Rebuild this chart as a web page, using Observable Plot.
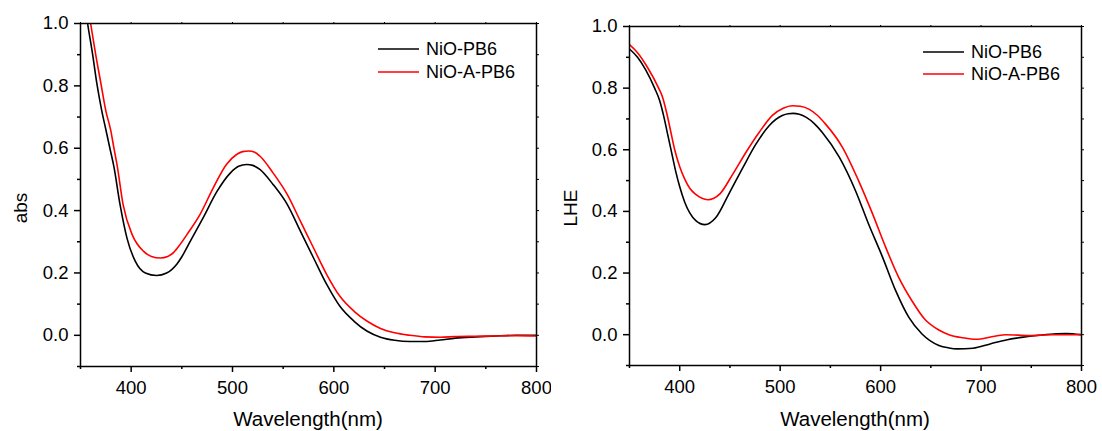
<!DOCTYPE html>
<html><head><meta charset="utf-8">
<script src="https://cdn.jsdelivr.net/npm/d3@7"></script>
<script src="https://cdn.jsdelivr.net/npm/@observablehq/plot@0.6"></script>
<style>
body{margin:0;background:#fff;}
#wrap{position:relative;width:1102px;height:431px;}
#wrap svg{position:absolute;top:0;}
</style></head><body><div id="wrap"></div>
<script>
// ---- data ----
const seriesNames = ["NiO-PB6", "NiO-A-PB6"];
const seriesColors = ["#000000", "#ff0000"];

// Left panel: abs
const absBlackX = [350,357,362,366,371,375,379,383,389,396,404,414,425,435,440,445,450,458,471,485,498,506,514,520,527,540,554,567,580,593,606,620,633,646,660,675,690,705,720,740,760,780,800];
const absBlackY = [1.16,1.00,0.90,0.81,0.72,0.66,0.60,0.54,0.42,0.31,0.238,0.200,0.192,0.200,0.211,0.228,0.252,0.300,0.377,0.463,0.521,0.542,0.548,0.545,0.532,0.484,0.420,0.334,0.248,0.163,0.093,0.045,0.013,-0.006,-0.016,-0.020,-0.020,-0.015,-0.009,-0.005,-0.002,0.000,0.000];
const absRedX = [350,360,365,370,375,380,383,386,392,401,412,420,429,436,442,448,455,468,481,494,504,510,516,522,527,540,554,567,580,593,606,620,633,646,660,675,690,705,720,740,760,780,800];
const absRedY = [1.22,1.00,0.90,0.81,0.72,0.655,0.60,0.548,0.42,0.323,0.270,0.253,0.248,0.253,0.266,0.290,0.323,0.388,0.473,0.548,0.580,0.589,0.591,0.587,0.575,0.521,0.452,0.366,0.280,0.195,0.125,0.077,0.045,0.022,0.008,0.000,-0.005,-0.006,-0.004,-0.003,-0.002,-0.001,-0.002];

// Right panel: LHE
const lheBlackX = [350,358,366,375,380,384,388,392,396,400,405,410,416,425,436,449,463,476,489,502,508,513,519,526,534,542,559,575,588,602,615,628,641,658,668,676,692,709,725,742,758,775,785,800];
const lheBlackY = [0.927,0.90,0.86,0.80,0.76,0.71,0.65,0.59,0.53,0.48,0.43,0.395,0.37,0.357,0.38,0.457,0.543,0.619,0.678,0.711,0.717,0.718,0.715,0.705,0.685,0.656,0.575,0.467,0.359,0.251,0.143,0.057,0.003,-0.035,-0.043,-0.046,-0.044,-0.030,-0.017,-0.008,-0.002,0.003,0.004,0.000];
const lheRedX = [350,358,368,379,383,387,391,395,400,405,410,416,428,440,453,466,479,492,503,512,520,529,537,545,562,578,592,605,618,631,644,658,668,682,695,712,725,748,771,800];
const lheRedY = [0.941,0.915,0.867,0.80,0.77,0.72,0.66,0.60,0.545,0.505,0.475,0.455,0.438,0.457,0.522,0.592,0.656,0.711,0.735,0.743,0.741,0.731,0.712,0.684,0.608,0.500,0.392,0.284,0.186,0.111,0.050,0.015,0.000,-0.010,-0.015,-0.006,0.000,-0.003,0.000,0.000];

const xTicks = [400, 500, 600, 700, 800];
const xMinor = [350, 450, 550, 650, 750];
const yTicks = [0.0, 0.2, 0.4, 0.6, 0.8, 1.0];
const yMinor = [-0.1, 0.1, 0.3, 0.5, 0.7, 0.9];
const xLabel = "Wavelength(nm)";

function toRows(xs, ys, name) { return xs.map((x, i) => ({x, y: ys[i], series: name})); }

const FONT = "Arial, 'Liberation Sans', sans-serif";

function panel(o) {
  const rows = [...toRows(o.bx, o.by, seriesNames[0]), ...toRows(o.rx, o.ry, seriesNames[1])];
  const svg = Plot.plot({
    width: o.w, height: 431,
    marginLeft: o.ml, marginRight: o.mr, marginTop: o.mt, marginBottom: o.mb,
    style: {fontFamily: FONT, fontSize: "18.5px", color: "#000", background: "transparent"},
    x: {domain: [350, 800]},
    y: {domain: [-0.1, 1.0]},
    color: {domain: seriesNames, range: seriesColors},
    marks: [
      Plot.axisY({ticks: yTicks, tickSize: 6, tickPadding: 6, strokeWidth: 1.5, tickFormat: d => d.toFixed(1), fontSize: 18.5, label: null}),
      Plot.axisY({ticks: yMinor, tickSize: 3, strokeWidth: 1.5, text: null, label: null}),
      Plot.axisY({ticks: [...yTicks, ...yMinor], anchor: "right", tickSize: 2, strokeWidth: 1, text: null, label: null}),
      Plot.axisX({ticks: xTicks, tickSize: 6, tickPadding: 8, strokeWidth: 1.5, fontSize: 18.5, label: null}),
      Plot.axisX({ticks: xMinor, tickSize: 3, strokeWidth: 1.5, text: null, label: null}),
      Plot.axisX({ticks: [...xTicks, ...xMinor], anchor: "top", tickSize: 2, strokeWidth: 1, text: null, label: null}),
      Plot.line(rows, {x: "x", y: "y", z: "series", stroke: "series", strokeWidth: 1.6, curve: "monotone-x", clip: true}),
      Plot.frame({stroke: "#000", strokeWidth: 1.5})
    ]
  });
  svg.style.left = o.left + "px";
  const s = d3.select(svg);
  // axis titles
  s.append("text").attr("transform", `translate(${o.ylx},208) rotate(-90)`)
    .attr("text-anchor", "middle").attr("dominant-baseline", "central")
    .attr("font-family", FONT).attr("font-size", 19).attr("fill", "#000").text(o.ylabel);
  s.append("text").attr("x", o.xlx).attr("y", 426)
    .attr("text-anchor", "middle").attr("font-family", FONT).attr("font-size", 20.5).attr("fill", "#000").text(xLabel);
  // legend
  seriesNames.forEach((name, i) => {
    const y = o.legY + i * o.legGap;
    s.append("line").attr("x1", o.legX).attr("x2", o.legX + 41).attr("y1", y).attr("y2", y)
      .attr("stroke", seriesColors[i]).attr("stroke-width", 1.5);
    s.append("text").attr("x", o.legX + 48).attr("y", y).attr("dy", "0.36em")
      .attr("text-anchor", "start")
      .attr("font-family", FONT).attr("font-size", 18).attr("fill", "#000").text(name);
  });
  document.getElementById("wrap").appendChild(svg);
}

panel({left: 0, w: 551, ml: 80, mr: 15, mt: 23, mb: 65, bx: absBlackX, by: absBlackY, rx: absRedX, ry: absRedY,
  ylabel: "abs", ylx: 20, xlx: 308, legX: 378, legY: 49, legGap: 23});
panel({left: 551, w: 551, ml: 78, mr: 21, mt: 26, mb: 66, bx: lheBlackX, by: lheBlackY, rx: lheRedX, ry: lheRedY,
  ylabel: "LHE", ylx: 19, xlx: 304, legX: 372, legY: 52, legGap: 22});
</script></body></html>
